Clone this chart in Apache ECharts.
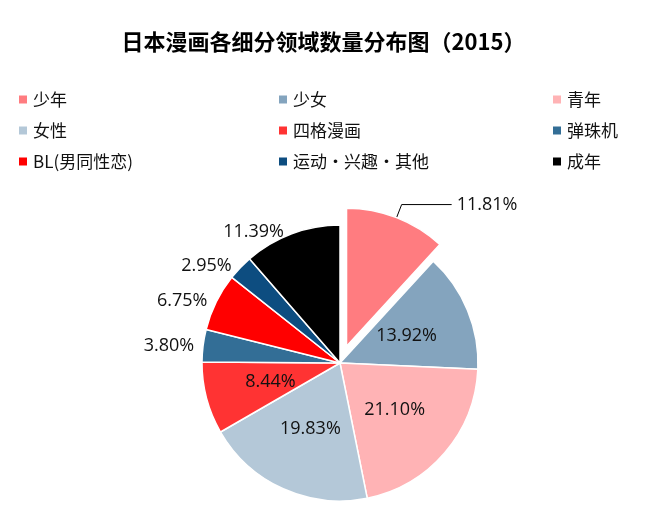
<!DOCTYPE html>
<html>
<head>
<meta charset="utf-8">
<script src="https://cdn.jsdelivr.net/npm/echarts@6/dist/echarts.min.js"></script>
<style>body{margin:0;background:#fff}#main{width:647px;height:515px}</style>
</head>
<body>
<div id="main"></div>
<script>
var names = ['少年','少女','青年','女性','四格漫画','弹珠机','BL(男同性恋)','运动・兴趣・其他','成年'];
var values = [11.81, 13.92, 21.10, 19.83, 8.44, 3.80, 6.75, 2.95, 11.39];
var colors = ['#FF7C80','#84A4BE','#FFB3B5','#B4C8D8','#FF3333','#336E96','#FF0000','#0D4D80','#000000'];
// 标签放外面的几块
var outside = [5, 6, 7, 8];

var chart = echarts.init(document.getElementById('main'));
var data = values.map(function(v, i){
    var d = {name: names[i], value: v, itemStyle: {color: colors[i]}};
    if (i === 0) {
        d.selected = true;
        d.label = {position: 'outside', distance: 4};
        d.labelLine = {show: true, length: 14, length2: 50, lineStyle: {color: '#000'}};
    } else if (outside.indexOf(i) >= 0) {
        d.label = {position: 'outside', distance: 2};
        d.labelLine = {show: false, length: 2, length2: 2};
    } else {
        d.label = {position: 'inside'};
    }
    return d;
});
var fontLeg = '"Noto Sans CJK SC", sans-serif';
function legendCol(items, left){
    return {
        orient: 'vertical', left: left, top: 86, itemGap: 14,
        itemWidth: 10, itemHeight: 10, icon: 'rect',
        data: items,
        textStyle: {fontSize: 17, color: '#111', fontFamily: fontLeg},
        selectedMode: false
    };
}
chart.setOption({
    animation: false,
    title: {
        text: '日本漫画各细分领域数量分布图（2015）', left: 'center', top: 26,
        textStyle: {fontSize: 22, fontWeight: 'bold', color: '#000', fontFamily: fontLeg}
    },
    legend: [
        legendCol([names[0], names[3], names[6]], 12),
        legendCol([names[1], names[4], names[7]], 272),
        legendCol([names[2], names[5], names[8]], 546)
    ],
    series: [{
        type: 'pie',
        center: [340, 363],
        radius: 138,
        startAngle: 90,
        clockwise: true,
        selectedMode: 'single',
        selectedOffset: 18,
        avoidLabelOverlap: false,
        itemStyle: {borderColor: '#fff', borderWidth: 1.5},
        label: {
            formatter: function(p){ return p.value.toFixed(2) + '%'; },
            fontSize: 18, fontWeight: 500, color: '#111', fontFamily: 'Open Sans, sans-serif'
        },
        data: data
    }]
});
</script>
</body>
</html>
